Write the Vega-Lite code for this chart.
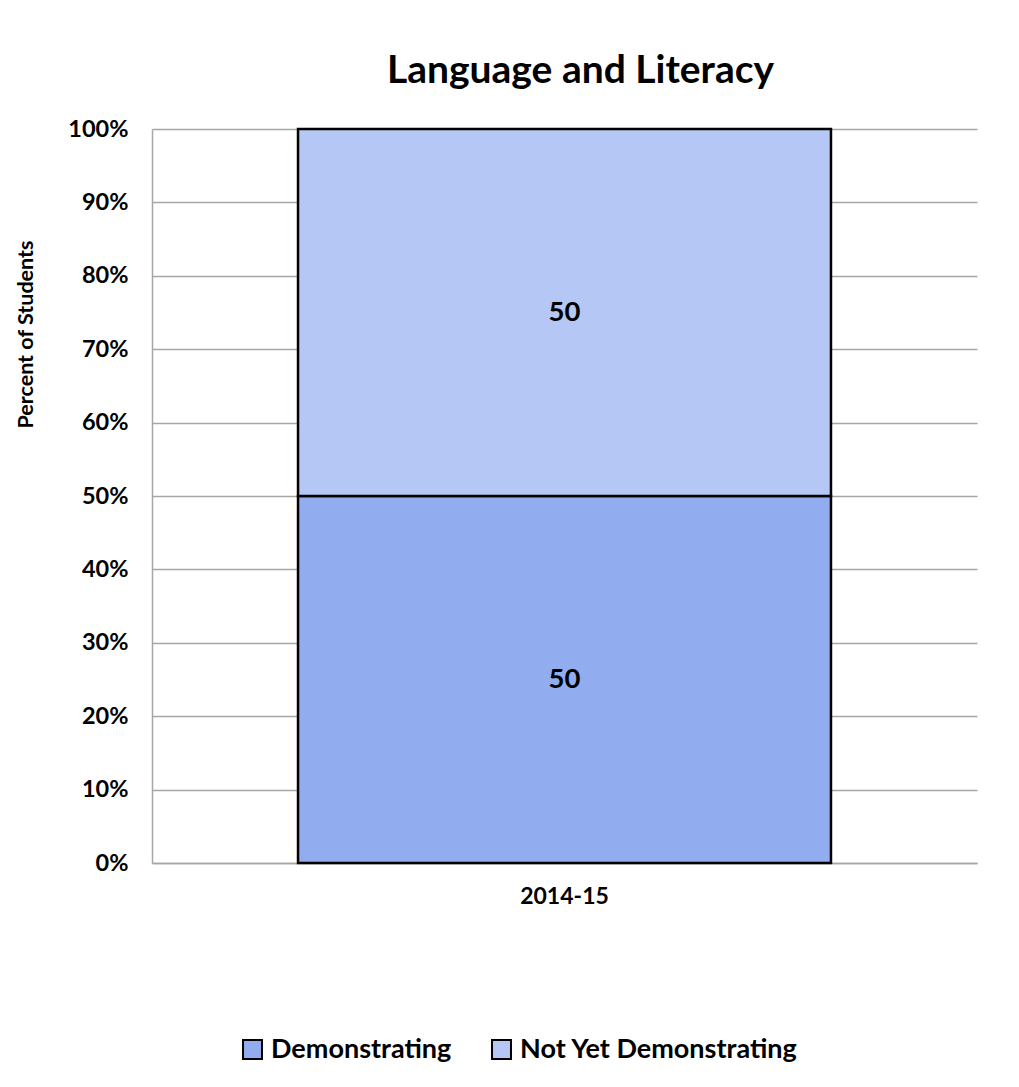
{
  "$schema": "https://vega.github.io/schema/vega-lite/v6.json",
  "autosize": "none",
  "width": 825,
  "height": 734,
  "padding": {"left": 152, "top": 129, "right": 42, "bottom": 224},
  "background": "white",
  "config": {
    "font": "Lato",
    "view": {"stroke": null}
  },
  "title": {
    "text": "Language and Literacy",
    "fontSize": 39,
    "fontWeight": "bold",
    "font": "Lato",
    "color": "black",
    "anchor": "middle",
    "offset": 26,
    "dx": 16
  },
  "data": {
    "values": [
      {"year": "2014-15", "status": "Demonstrating", "value": 50, "rank": 1},
      {"year": "2014-15", "status": "Not Yet Demonstrating", "value": 50, "rank": 2}
    ]
  },
  "transform": [
    {"stack": "value", "groupby": ["year"], "sort": [{"field": "rank", "order": "ascending"}], "as": ["v0", "v1"]},
    {"calculate": "(datum.v0 + datum.v1) / 2", "as": "mid"}
  ],
  "encoding": {
    "x": {
      "field": "year",
      "type": "nominal",
      "scale": {"paddingInner": 0, "paddingOuter": 0.274},
      "axis": {
        "title": null,
        "labelAngle": 0,
        "labelFontSize": 23,
        "labelFontWeight": "bold",
        "labelColor": "black",
        "labelPadding": 22,
        "ticks": false,
        "domainColor": "#A6A6A6",
        "domainWidth": 1.5
      }
    }
  },
  "layer": [
    {
      "mark": {"type": "bar", "stroke": "black", "strokeWidth": 2.5},
      "encoding": {
        "y": {
          "field": "v0",
          "type": "quantitative",
          "scale": {"domain": [0, 100]},
          "axis": {
            "title": "Percent of Students",
            "titleFontSize": 21.5,
            "titleFontWeight": "bold",
            "titleColor": "black",
            "titleX": -126,
            "titleY": 205,
            "titleAngle": -90,
            "titleBaseline": "middle",
            "values": [0, 10, 20, 30, 40, 50, 60, 70, 80, 90, 100],
            "labelExpr": "datum.value + '%'",
            "labelFontSize": 23.5,
            "labelFontWeight": "bold",
            "labelColor": "black",
            "labelPadding": 24,
            "ticks": false,
            "domainColor": "#A6A6A6",
            "domainWidth": 1.5,
            "grid": true,
            "gridColor": "#A6A6A6",
            "gridWidth": 1.5
          }
        },
        "y2": {"field": "v1"},
        "color": {
          "field": "status",
          "type": "nominal",
          "scale": {
            "domain": ["Demonstrating", "Not Yet Demonstrating"],
            "range": ["#92ACF0", "#B5C7F5"]
          },
          "legend": {
            "title": null,
            "orient": "none",
            "legendX": 87,
            "legendY": 907,
            "direction": "horizontal",
            "symbolType": "square",
            "symbolSize": 360,
            "symbolStrokeColor": "black",
            "symbolStrokeWidth": 2,
            "symbolOpacity": 1,
            "labelFontSize": 27,
            "labelFontWeight": "bold",
            "labelColor": "black",
            "labelLimit": 400,
            "columnPadding": 36,
            "labelOffset": 5
          }
        }
      }
    },
    {
      "mark": {"type": "text", "fontSize": 27.5, "fontWeight": "bold", "color": "black"},
      "encoding": {
        "y": {"field": "mid", "type": "quantitative"},
        "text": {"field": "value", "type": "quantitative"}
      }
    }
  ]
}
